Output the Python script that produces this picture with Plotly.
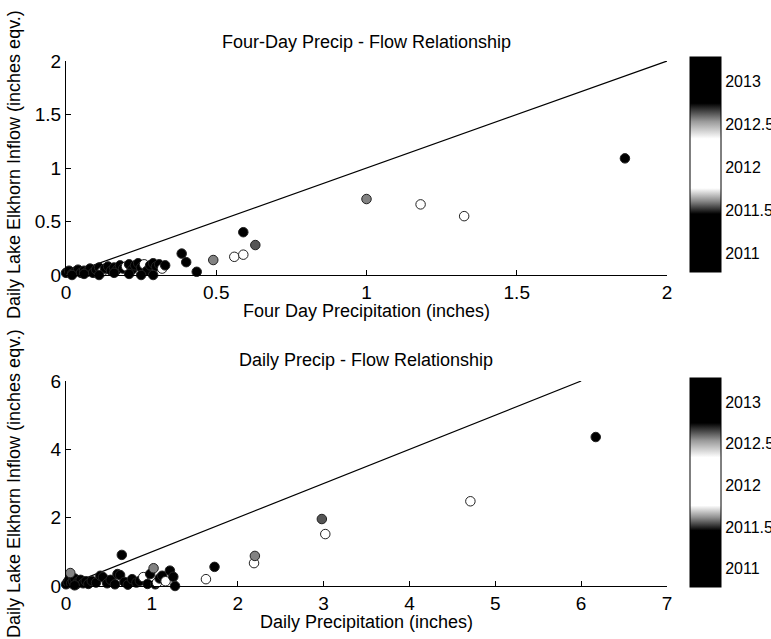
import plotly.graph_objects as go

W, H = 771, 639

# ---------------- data ----------------
# Top panel: four-day precipitation vs daily inflow, coloured by date (year)
four_day_precip = [0.00, 0.01, 0.02, 0.03, 0.04, 0.05, 0.06, 0.07, 0.08, 0.09,
                   0.10, 0.11, 0.12, 0.13, 0.14, 0.15, 0.16, 0.17, 0.18, 0.19,
                   0.20, 0.21, 0.22, 0.23, 0.24, 0.25, 0.26, 0.27, 0.28, 0.29,
                   0.30, 0.31, 0.32, 0.33, 0.02, 0.06, 0.11, 0.16, 0.21, 0.25,
                   0.29, 0.385, 0.40, 0.435, 0.49, 0.56, 0.59, 0.59, 0.63, 1.00,
                   1.18, 1.325, 1.86]
four_day_inflow = [0.02, 0.04, 0.01, 0.03, 0.05, 0.02, 0.04, 0.03, 0.06, 0.02,
                   0.05, 0.07, 0.03, 0.06, 0.08, 0.04, 0.07, 0.05, 0.09, 0.06,
                   0.08, 0.10, 0.05, 0.09, 0.11, 0.07, 0.10, 0.04, 0.09, 0.11,
                   0.08, 0.10, 0.06, 0.09, 0.00, 0.01, 0.00, 0.02, 0.01, 0.00,
                   0.00, 0.20, 0.12, 0.03, 0.14, 0.17, 0.19, 0.40, 0.28, 0.71,
                   0.66, 0.55, 1.09]
four_day_date = [2011.1, 2013.0, 2011.2, 2012.9, 2011.1, 2013.1, 2011.3, 2011.0, 2013.0, 2011.2,
                 2012.9, 2011.1, 2012.0, 2013.0, 2011.2, 2011.1, 2012.9, 2011.0, 2013.1, 2011.3,
                 2012.1, 2011.1, 2013.0, 2011.2, 2012.9, 2011.0, 2012.0, 2013.1, 2011.1, 2011.2,
                 2012.95, 2011.1, 2012.0, 2011.0, 2011.1, 2013.0, 2011.2, 2011.1, 2012.9, 2011.0,
                 2011.1, 2011.2, 2013.0, 2011.1, 2011.6, 2012.1, 2012.0, 2011.1, 2011.55, 2011.6,
                 2012.0, 2012.2, 2011.2]

# Bottom panel: daily precipitation vs daily inflow
daily_precip = [0.00, 0.02, 0.04, 0.06, 0.08, 0.10, 0.12, 0.14, 0.17, 0.20,
                0.23, 0.26, 0.30, 0.35, 0.40, 0.43, 0.48, 0.52, 0.57, 0.60,
                0.63, 0.68, 0.72, 0.77, 0.82, 0.86, 0.90, 0.95, 0.98, 1.02,
                1.04, 1.06, 1.09, 1.12, 1.16, 1.21, 1.25, 1.27, 0.05, 0.10,
                0.65, 1.63, 1.73, 2.19, 2.20, 2.98, 3.02, 4.71, 6.17]
daily_inflow = [0.05, 0.12, 0.20, 0.08, 0.15, 0.22, 0.05, 0.12, 0.18, 0.08,
                0.14, 0.06, 0.15, 0.10, 0.30, 0.26, 0.08, 0.18, 0.05, 0.35,
                0.32, 0.12, 0.04, 0.20, 0.10, 0.15, 0.26, 0.06, 0.35, 0.52,
                0.05, 0.10, 0.22, 0.30, 0.14, 0.45, 0.27, 0.00, 0.38, 0.02,
                0.91, 0.20, 0.56, 0.67, 0.88, 1.96, 1.52, 2.48, 4.36]
daily_date = [2011.1, 2013.0, 2011.2, 2012.9, 2011.1, 2013.1, 2011.3, 2011.0, 2013.0, 2011.2,
              2012.9, 2011.1, 2011.0, 2013.0, 2011.2, 2011.1, 2012.9, 2011.0, 2013.1, 2011.3,
              2011.1, 2011.1, 2013.0, 2011.2, 2012.9, 2011.0, 2012.0, 2013.1, 2011.1, 2011.6,
              2011.2, 2012.0, 2011.1, 2012.95, 2012.1, 2011.1, 2011.0, 2011.2, 2011.6, 2013.0,
              2011.1, 2012.2, 2011.1, 2012.2, 2011.6, 2011.55, 2012.0, 2012.0, 2011.2]

ref_top_x = [0, 2]
ref_bottom_x = [0, 6]

x_ticks_top = [0, 0.5, 1, 1.5, 2]
x_ticks_bottom = [0, 1, 2, 3, 4, 5, 6, 7]
y_ticks_top = [0, 0.5, 1, 1.5, 2]
y_ticks_bottom = [0, 2, 4, 6]
cbar_ticks = [2011, 2011.5, 2012, 2012.5, 2013]
cbar_labels = ["2011", "2011.5", "2012", "2012.5", "2013"]

CMIN, CMAX = 2010.78, 2013.29

# ---------------- figure ----------------
FONT = "Liberation Sans, Arial, Helvetica, sans-serif"
gray_scale = [[0.0, "#000000"], [0.27, "#000000"], [0.33, "#8a8a8a"],
              [0.39, "#ffffff"], [0.62, "#ffffff"], [0.70, "#9a9a9a"],
              [0.785, "#000000"], [1.0, "#000000"]]

def px_x(p):
    return p / W

def px_y(p):
    return 1 - p / H

fig = go.Figure()

fig.add_trace(go.Scatter(x=ref_top_x, y=ref_top_x, mode="lines",
                         line=dict(color="black", width=1.2),
                         xaxis="x", yaxis="y", showlegend=False, hoverinfo="skip"))
fig.add_trace(go.Scatter(x=four_day_precip, y=four_day_inflow, mode="markers",
                         marker=dict(size=9.5, color=four_day_date, coloraxis="coloraxis",
                                     line=dict(color="#222222", width=1)),
                         cliponaxis=False, xaxis="x", yaxis="y", showlegend=False))

fig.add_trace(go.Scatter(x=ref_bottom_x, y=ref_bottom_x, mode="lines",
                         line=dict(color="black", width=1.2),
                         xaxis="x2", yaxis="y2", showlegend=False, hoverinfo="skip"))
fig.add_trace(go.Scatter(x=daily_precip, y=daily_inflow, mode="markers",
                         marker=dict(size=9.5, color=daily_date, coloraxis="coloraxis2",
                                     line=dict(color="#222222", width=1)),
                         cliponaxis=False, xaxis="x2", yaxis="y2", showlegend=False))

axis_common = dict(showline=True, linecolor="black", linewidth=1, ticks="inside",
                   ticklen=5, tickcolor="black", showgrid=False, zeroline=False,
                   mirror=False, automargin=False,
                   tickfont=dict(family=FONT, size=19, color="black"))

cbar_common = dict(x=px_x(690), xanchor="left", thickness=31, lenmode="fraction",
                   xpad=0, ypad=0, outlinewidth=1, outlinecolor="black",
                   tickvals=cbar_ticks, ticktext=cbar_labels, ticks="",
                   tickfont=dict(family=FONT, size=16, color="black"))

x_dom = [px_x(66), px_x(667)]
fig.update_layout(
    width=W, height=H,
    margin=dict(l=0, r=0, t=0, b=0, autoexpand=False),
    paper_bgcolor="white", plot_bgcolor="white",
    font=dict(family=FONT, color="black"),
    xaxis=dict(domain=x_dom, range=[0, 2], tickvals=x_ticks_top,
               ticktext=["0", "0.5", "1", "1.5", "2"], anchor="y", **axis_common),
    yaxis=dict(domain=[px_y(275), px_y(61)], range=[0, 2], tickvals=y_ticks_top,
               ticktext=["0", "0.5", "1", "1.5", "2"], anchor="x", **axis_common),
    xaxis2=dict(domain=x_dom, range=[0, 7], tickvals=x_ticks_bottom, anchor="y2",
                **axis_common),
    yaxis2=dict(domain=[px_y(586), px_y(381)], range=[0, 6], tickvals=y_ticks_bottom,
                anchor="x2", **axis_common),
    coloraxis=dict(colorscale=gray_scale, cmin=CMIN, cmax=CMAX,
                   colorbar=dict(y=px_y((57 + 272) / 2), yanchor="middle",
                                 len=(272 - 57) / H, **cbar_common)),
    coloraxis2=dict(colorscale=gray_scale, cmin=CMIN, cmax=CMAX,
                    colorbar=dict(y=px_y((378 + 587) / 2), yanchor="middle",
                                  len=(587 - 378) / H, **cbar_common)),
)

ann_font = dict(family=FONT, size=18, color="black")
annotations = [
    dict(text="Four-Day Precip - Flow Relationship", x=px_x(366), y=px_y(42)),
    dict(text="Four Day Precipitation (inches)", x=px_x(366), y=px_y(311)),
    dict(text="Daily Precip - Flow Relationship", x=px_x(366), y=px_y(360)),
    dict(text="Daily Precipitation (inches)", x=px_x(366), y=px_y(622)),
    dict(text="Daily Lake Elkhorn Inflow (inches eqv.)", x=px_x(14), y=px_y(165), textangle=-90),
    dict(text="Daily Lake Elkhorn Inflow (inches eqv.)", x=px_x(14), y=px_y(484), textangle=-90),
]
for a in annotations:
    fig.add_annotation(xref="paper", yref="paper", showarrow=False,
                       xanchor="center", yanchor="middle", font=ann_font, **a)

fig.write_html("out.html", config={"displayModeBar": False},
               post_script="document.body.style.margin='0';document.body.style.overflow='hidden';")
